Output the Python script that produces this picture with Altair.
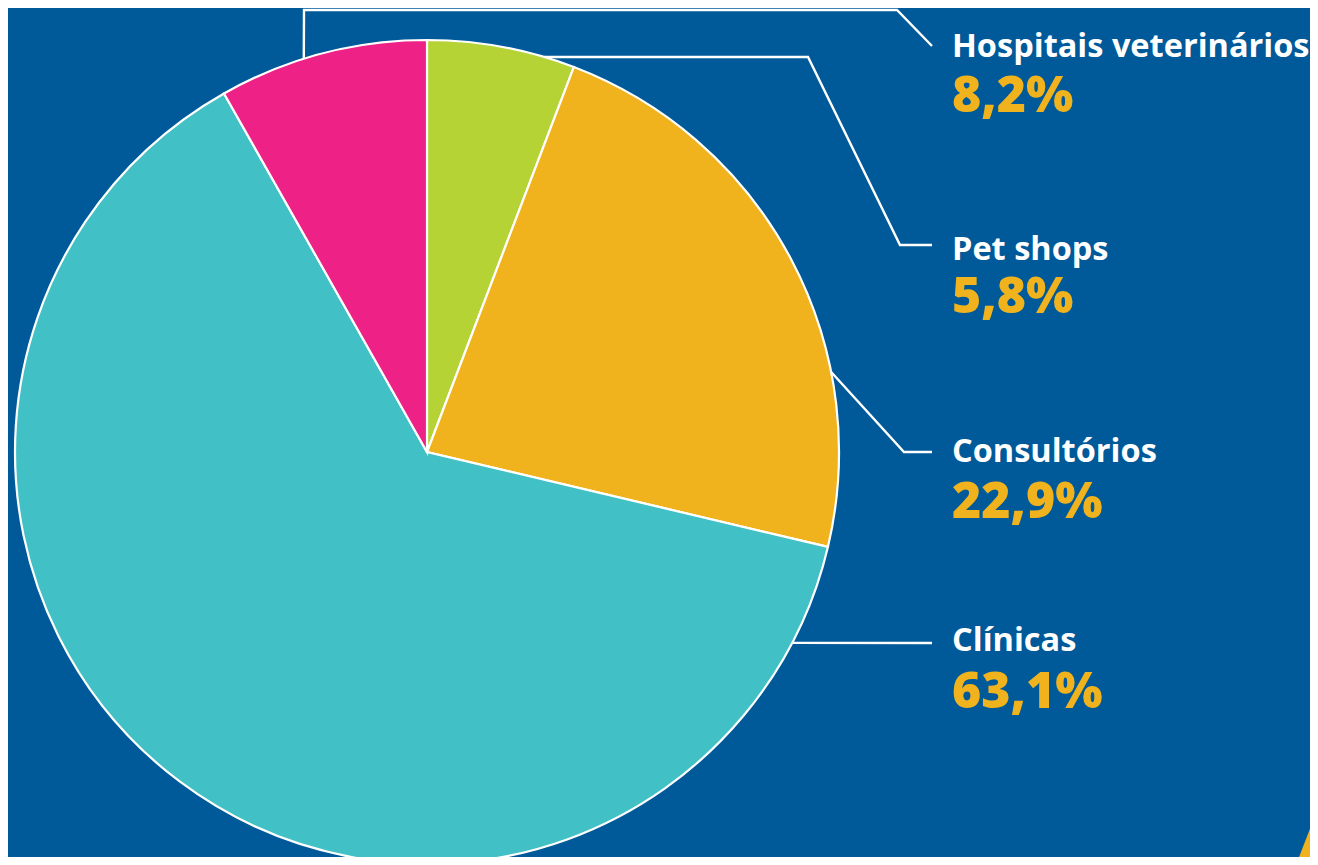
import math
import altair as alt
import pandas as pd

# ---- data ----
categories = ["Pet shops", "Consultórios", "Clínicas", "Hospitais veterinários"]
shares = [5.8, 22.9, 63.1, 8.2]
value_labels = ["5,8%", "22,9%", "63,1%", "8,2%"]
colors = ["#B6D335", "#F0B31E", "#41C0C5", "#EE2187"]

# ---- layout (chart pixel space) ----
W, H = 1302, 849
BG = "#005A99"
CX, CY, R = 419, 444, 412
LABEL_X = 944
name_baselines = [252, 454, 643, 49]
value_baselines = [305, 510, 700, 104]
anchor_angles = [16.5, 78.8, 117.6, 342.6]  # where leader lines touch the rim
elbows = [
    [(800, 49), (892, 237), (924, 237)],
    [(896, 444), (924, 444)],
    [(924, 635)],
    [(296, 2), (889, 2), (924, 38)],
]

pie_df = pd.DataFrame({
    "cat": categories,
    "share": shares,
    "order": list(range(len(categories))),
})

rows = []
for i, cat in enumerate(categories):
    a = math.radians(anchor_angles[i])
    pts = [(CX + R * math.sin(a), CY - R * math.cos(a))] + elbows[i]
    for k, (px, py) in enumerate(pts):
        rows.append({"cat": cat, "k": k, "x": px, "y": py})
lines_df = pd.DataFrame(rows)

text_df = pd.DataFrame({
    "cat": categories,
    "val": value_labels,
    "x": [LABEL_X] * 4,
    "ny": name_baselines,
    "vy": value_baselines,
})

xs = alt.Scale(domain=[0, W], range=[0, W])
ys = alt.Scale(domain=[0, H], range=[0, H])

lines = alt.Chart(lines_df).mark_line(color="white", strokeWidth=2.4).encode(
    x=alt.X("x:Q", scale=xs, axis=None),
    y=alt.Y("y:Q", scale=ys, axis=None),
    detail="cat:N",
    order="k:Q",
)

pie = alt.Chart(pie_df).mark_arc(radius=R, stroke="white", strokeWidth=2.2).encode(
    theta=alt.Theta("share:Q", stack=True),
    order=alt.Order("order:Q"),
    color=alt.Color("cat:N", scale=alt.Scale(domain=categories, range=colors), legend=None),
    x=alt.value(CX),
    y=alt.value(CY),
)

names = alt.Chart(text_df).mark_text(
    align="left", baseline="alphabetic", font="Open Sans", fontWeight="bold",
    fontSize=32.5, color="white",
).encode(
    x=alt.X("x:Q", scale=xs, axis=None),
    y=alt.Y("ny:Q", scale=ys, axis=None),
    text="cat:N",
)

vals = alt.Chart(text_df).mark_text(
    align="left", baseline="alphabetic", font="Open Sans", fontWeight=800,
    fontSize=50, color="#F0B31E",
).encode(
    x=alt.X("x:Q", scale=xs, axis=None),
    y=alt.Y("vy:Q", scale=ys, axis=None),
    text="val:N",
)

# decorative corner triangle
tri_df = pd.DataFrame({"x": [1288, 1310], "y": [857, 800], "y2": [857, 857]})
tri = alt.Chart(tri_df).mark_area(color="#F0B31E").encode(
    x=alt.X("x:Q", scale=xs, axis=None),
    y=alt.Y("y:Q", scale=ys, axis=None),
    y2="y2:Q",
)

chart = alt.layer(lines, pie, names, vals, tri).properties(
    width=W, height=H, background=BG, padding=0,
    autosize=alt.AutoSizeParams(type="none"),
).configure_view(stroke=None)

chart.save("out.html", embed_options={"renderer": "svg", "actions": False})
